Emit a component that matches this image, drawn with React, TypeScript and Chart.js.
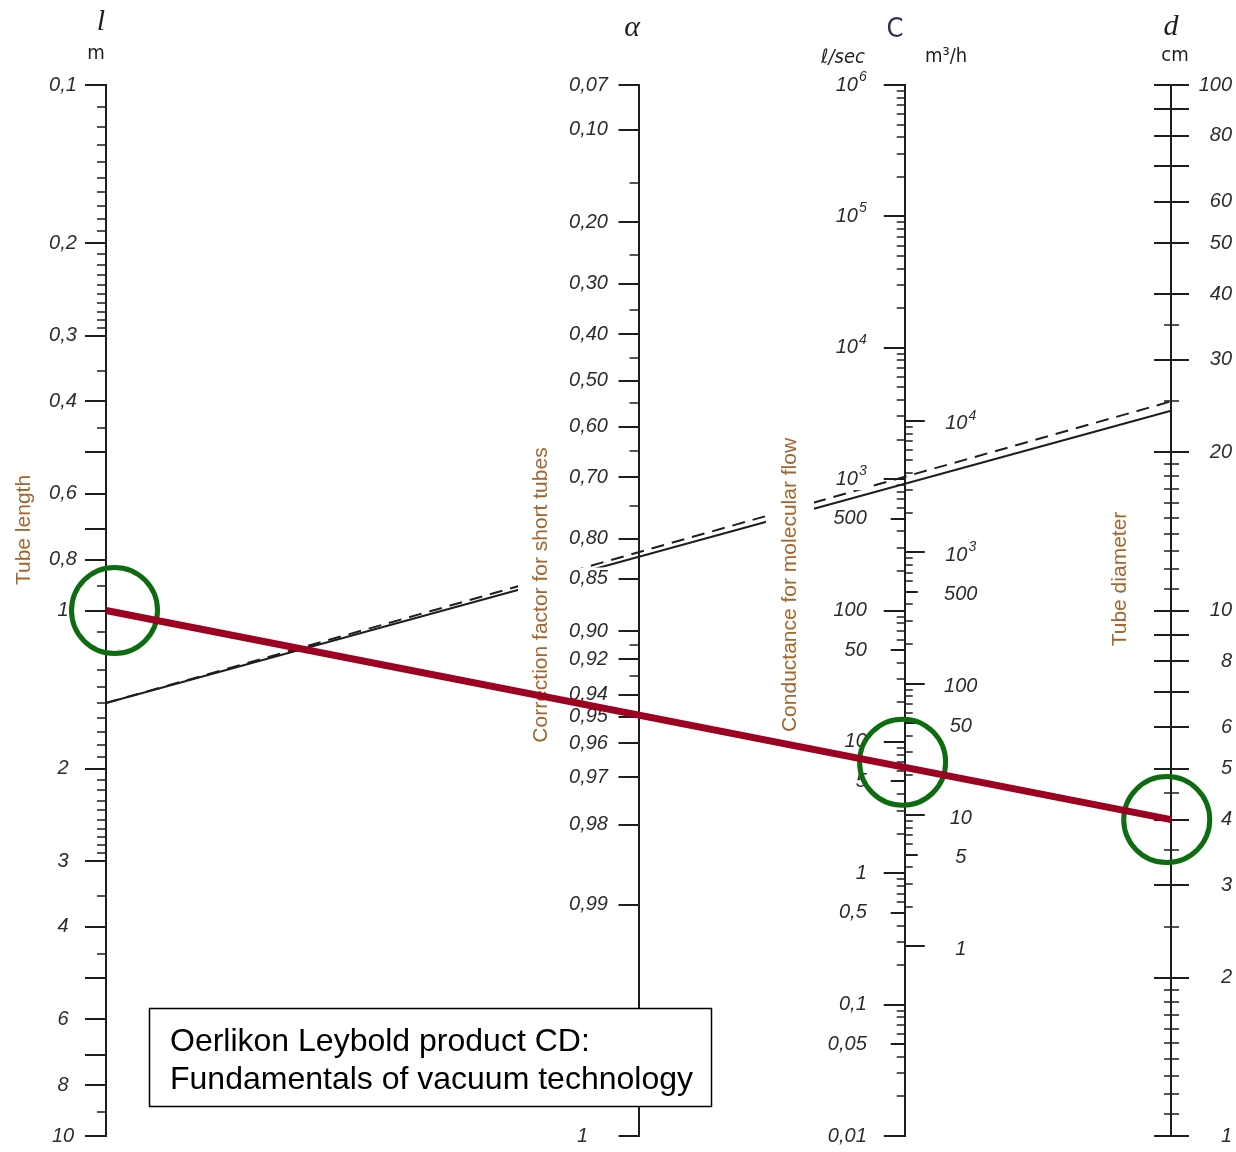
import React, { useEffect, useRef } from 'react';
import { Chart, registerables } from 'chart.js';

Chart.register(...registerables);

const W = 1236;
const H = 1152;

// Horizontal placement of the four nomogram axes (0 = tube length, 1 = tube diameter)
const AXIS_POS: Record<string, number> = { l: 0, a: 0.5, c: 0.75, d: 1 };

// ---- Tube length l (m) ----
const lLabelTicks = [0.1, 0.2, 0.3, 0.4, 0.6, 0.8, 1, 2, 3, 4, 6, 8, 10];
const lLabelTexts = ['0,1', '0,2', '0,3', '0,4', '0,6', '0,8', '1', '2', '3', '4', '6', '8', '10'];
const lMediumTicks = [0.5, 0.7, 5, 7];
const lMinorTicks = [
  0.11, 0.12, 0.13, 0.14, 0.15, 0.16, 0.17, 0.18, 0.19,
  0.21, 0.22, 0.23, 0.24, 0.25, 0.26, 0.27, 0.28, 0.29,
  0.35, 0.45, 0.9,
  1.1, 1.2, 1.3, 1.4, 1.5, 1.6, 1.7, 1.8, 1.9,
  2.1, 2.2, 2.3, 2.4, 2.5, 2.6, 2.7, 2.8, 2.9,
  3.5, 4.5, 9,
];

// ---- Correction factor alpha for short tubes ----
const aLabelTicks = [0.07, 0.1, 0.2, 0.3, 0.4, 0.5, 0.6, 0.7, 0.8, 0.85, 0.9, 0.92, 0.94, 0.95, 0.96, 0.97, 0.98, 0.99, 1];
const aLabelTexts = ['0,07', '0,10', '0,20', '0,30', '0,40', '0,50', '0,60', '0,70', '0,80', '0,85', '0,90', '0,92', '0,94', '0,95', '0,96', '0,97', '0,98', '0,99', '1'];
const aMinorTicks = [0.15, 0.25, 0.35, 0.45, 0.55, 0.65, 0.75, 0.91, 0.93];
// alpha = 1 / (1 + 4d/(3l)): the axis is logarithmic in l/d
const alphaToRatio = (a: number) => Math.min((4 * a) / (3 * (1 - a)), 1000);

// ---- Conductance C, l/s (left side) ----
const cLabelTicks = [1e6, 1e5, 1e4, 1e3, 500, 100, 50, 10, 5, 1, 0.5, 0.1, 0.05, 0.01];
const cLabelTexts = ['10^6', '10^5', '10^4', '10^3', '500', '100', '50', '10', '5', '1', '0,5', '0,1', '0,05', '0,01'];
const cMinorTicks = [
  0.02, 0.03, 0.04, 0.06, 0.07, 0.08, 0.09,
  0.2, 0.3, 0.4, 0.6, 0.7, 0.8, 0.9,
  2, 3, 4, 6, 7, 8, 9,
  20, 30, 40, 60, 70, 80, 90,
  200, 300, 400, 600, 700, 800, 900,
  2000, 3000, 4000, 5000, 6000, 7000, 8000, 9000,
  20000, 30000, 40000, 50000, 60000, 70000, 80000, 90000,
  200000, 300000, 400000, 500000, 600000, 700000, 800000, 900000,
];

// ---- Conductance C, m3/h (right side) ----
const chLabelTicks = [1e4, 1e3, 500, 100, 50, 10, 5, 1];
const chLabelTexts = ['10^4', '10^3', '500', '100', '50', '10', '5', '1'];
const chMinorTicks = [
  2, 3, 4, 6, 7, 8, 9,
  20, 30, 40, 60, 70, 80, 90,
  200, 300, 400, 600, 700, 800, 900,
  2000, 3000, 4000, 5000, 6000, 7000, 8000, 9000,
];

// ---- Tube diameter d (cm) ----
const dLabelTicks = [100, 80, 60, 50, 40, 30, 20, 10, 8, 6, 5, 4, 3, 2, 1];
const dLabelTexts = ['100', '80', '60', '50', '40', '30', '20', '10', '8', '6', '5', '4', '3', '2', '1'];
const dMediumTicks = [90, 70, 9, 7];
const dMinorTicks = [35, 25, 19, 18, 17, 16, 15, 14, 13, 12, 11, 4.5, 3.5, 2.5, 1.9, 1.8, 1.7, 1.6, 1.5, 1.4, 1.3, 1.2, 1.1];

// ---- Example lines (black) from l to d ----
const exampleLineL = [1.5, 1.5];
const exampleLineD = [24, 25];
const exampleLineDash = [[], [13, 8]];

// ---- Reading example (red line, green circles) ----
const readL = 1;
const readD = 4;
const circleL = 1;
const circleC = 7;
const circleD = 4;
// circles are hand-placed slightly beside their axes (x in axis-position units)
const circleX = [0.008, 0.748, 0.996];

const INK = '#1e1e1e';
const LABEL_INK = '#2c2c2c';
const TITLE_INK = '#a2662e';
const RED = '#9d0021';
const GREEN = '#0d6b10';

const tickFont = (size: number) => `italic ${size}px "Liberation Sans", Arial, sans-serif`;

function drawLabel(ctx: CanvasRenderingContext2D, text: string, x: number, y: number, align: string, bg: boolean) {
  const [base, exp] = text.split('^');
  ctx.font = tickFont(20);
  const wb = ctx.measureText(base).width;
  let we = 0;
  if (exp) {
    ctx.font = tickFont(14);
    we = ctx.measureText(exp).width + 1;
  }
  const w = wb + we;
  const x0 = align === 'left' ? x : align === 'right' ? x - w : x - w / 2;
  if (bg) {
    ctx.fillStyle = '#ffffff';
    ctx.fillRect(x0 - 6, y - 11, w + 12, 22);
  }
  ctx.fillStyle = LABEL_INK;
  ctx.textAlign = 'left';
  ctx.textBaseline = 'middle';
  ctx.font = tickFont(20);
  ctx.fillText(base, x0, y);
  if (exp) {
    ctx.font = tickFont(14);
    ctx.fillText(exp, x0 + wb + 1, y - 8);
  }
}

function axisX(chart: any, key: string) {
  return chart.scales.x.getPixelForValue(AXIS_POS[key]);
}

function drawTicks(ctx: CanvasRenderingContext2D, chart: any, scaleId: string, key: string, values: number[], left: number, right: number, lw: number, tf?: (v: number) => number) {
  const x = axisX(chart, key);
  const s = chart.scales[scaleId];
  ctx.lineWidth = lw;
  ctx.strokeStyle = INK;
  ctx.beginPath();
  values.forEach((v) => {
    const y = Math.round(s.getPixelForValue(tf ? tf(v) : v));
    ctx.moveTo(x - left, y);
    ctx.lineTo(x + right, y);
  });
  ctx.stroke();
}

function drawRotated(ctx: CanvasRenderingContext2D, text: string, cx: number, cy: number, pad: number) {
  ctx.save();
  ctx.translate(cx, cy);
  ctx.rotate(-Math.PI / 2);
  ctx.font = '21px "Liberation Sans", Arial, sans-serif';
  const w = ctx.measureText(text).width;
  ctx.fillStyle = '#ffffff';
  ctx.fillRect(-w / 2 - 4, -12 - pad, w + 8, 24 + 2 * pad);
  ctx.fillStyle = TITLE_INK;
  ctx.textAlign = 'center';
  ctx.textBaseline = 'middle';
  ctx.fillText(text, 0, 0);
  ctx.restore();
}

function drawText(ctx: CanvasRenderingContext2D, text: string, x: number, y: number, font: string, color: string) {
  ctx.font = font;
  ctx.fillStyle = color;
  ctx.textAlign = 'center';
  ctx.textBaseline = 'middle';
  ctx.fillText(text, x, y);
}

const isDecade = (v: number) => Math.abs(Math.log10(v) - Math.round(Math.log10(v))) < 1e-9;

const nomogramPlugin = {
  id: 'nomogram',
  beforeDraw(chart: any) {
    const ctx = chart.ctx;
    ctx.save();
    ctx.fillStyle = '#ffffff';
    ctx.fillRect(0, 0, chart.width, chart.height);
    ctx.restore();
  },
  beforeDatasetsDraw(chart: any) {
    const ctx: CanvasRenderingContext2D = chart.ctx;
    const area = chart.chartArea;
    ctx.save();
    ctx.lineCap = 'butt';

    // axis lines
    ctx.strokeStyle = INK;
    ctx.lineWidth = 2;
    ['l', 'a', 'c', 'd'].forEach((k) => {
      const x = Math.round(axisX(chart, k));
      ctx.beginPath();
      ctx.moveTo(x, area.top - 1);
      ctx.lineTo(x, area.bottom + 1);
      ctx.stroke();
    });

    // l axis ticks
    drawTicks(ctx, chart, 'l', 'l', lLabelTicks, 21, 0, 2);
    drawTicks(ctx, chart, 'l', 'l', lMediumTicks, 21, 0, 2);
    drawTicks(ctx, chart, 'l', 'l', lMinorTicks, 9, 0, 1.6);
    // alpha axis ticks
    drawTicks(ctx, chart, 'a', 'a', aLabelTicks, 20, 0, 2, alphaToRatio);
    drawTicks(ctx, chart, 'a', 'a', aMinorTicks, 9, 0, 1.6, alphaToRatio);
    // C axis ticks, l/s on the left
    drawTicks(ctx, chart, 'c', 'c', cLabelTicks.filter(isDecade), 21, 0, 2);
    drawTicks(ctx, chart, 'c', 'c', cLabelTicks.filter((v) => !isDecade(v)), 14, 0, 2);
    drawTicks(ctx, chart, 'c', 'c', cMinorTicks, 8, 0, 1.6);
    // C axis ticks, m3/h on the right
    drawTicks(ctx, chart, 'cm', 'c', chLabelTicks.filter(isDecade), 0, 20, 2);
    drawTicks(ctx, chart, 'cm', 'c', chLabelTicks.filter((v) => !isDecade(v)), 0, 13, 2);
    drawTicks(ctx, chart, 'cm', 'c', chMinorTicks, 0, 8, 1.6);
    // d axis ticks (both sides)
    drawTicks(ctx, chart, 'd', 'd', dLabelTicks, 17, 18, 2);
    drawTicks(ctx, chart, 'd', 'd', dMediumTicks, 17, 18, 2);
    drawTicks(ctx, chart, 'd', 'd', dMinorTicks, 7, 8, 1.6);

    // black example lines
    exampleLineL.forEach((lv, i) => {
      ctx.beginPath();
      ctx.setLineDash(exampleLineDash[i]);
      ctx.lineWidth = 2;
      ctx.strokeStyle = INK;
      ctx.moveTo(axisX(chart, 'l'), chart.scales.l.getPixelForValue(lv));
      ctx.lineTo(axisX(chart, 'd'), chart.scales.d.getPixelForValue(exampleLineD[i]));
      ctx.stroke();
    });
    ctx.setLineDash([]);

    // rotated axis titles
    drawRotated(ctx, 'Tube length', 24, 530, 4);
    drawRotated(ctx, 'Correction factor for short tubes', 541, 595, 11);
    drawRotated(ctx, 'Conductance for molecular flow', 790, 585, 12);
    drawRotated(ctx, 'Tube diameter', 1120, 579, 4);

    // tick labels
    const xl = axisX(chart, 'l');
    lLabelTicks.forEach((v, i) => drawLabel(ctx, lLabelTexts[i], xl - 43, chart.scales.l.getPixelForValue(v), 'center', true));
    const xa = axisX(chart, 'a');
    aLabelTicks.forEach((v, i) =>
      drawLabel(ctx, aLabelTexts[i], aLabelTexts[i] === '1' ? xa - 56 : xa - 50, chart.scales.a.getPixelForValue(alphaToRatio(v)), 'center', true)
    );
    const xc = axisX(chart, 'c');
    cLabelTicks.forEach((v, i) => drawLabel(ctx, cLabelTexts[i], xc - 38, chart.scales.c.getPixelForValue(v), 'right', true));
    chLabelTicks.forEach((v, i) => drawLabel(ctx, chLabelTexts[i], xc + 56, chart.scales.cm.getPixelForValue(v) + 3, 'center', true));
    const xd = axisX(chart, 'd');
    dLabelTicks.forEach((v, i) => drawLabel(ctx, dLabelTexts[i], xd + 61, chart.scales.d.getPixelForValue(v), 'right', true));

    // headers
    const serifItalic = 'italic 30px "Liberation Serif", serif';
    const cond = '20px "DejaVu Sans Condensed", "DejaVu Sans", sans-serif';
    drawText(ctx, 'l', 101, 22, serifItalic, INK);
    drawText(ctx, 'm', 96, 54, cond, INK);
    drawText(ctx, 'α', 632, 28, serifItalic, INK);
    drawText(ctx, 'C', 895, 30, '27px "DejaVu Sans Condensed", "DejaVu Sans", sans-serif', '#2a3148');
    drawText(ctx, 'ℓ/sec', 843, 58, 'italic 20px "DejaVu Sans Condensed", "DejaVu Sans", sans-serif', INK);
    drawText(ctx, 'm³/h', 946, 57, cond, INK);
    drawText(ctx, 'd', 1171, 27, serifItalic, INK);
    drawText(ctx, 'cm', 1175, 56, cond, INK);

    // source note box
    ctx.fillStyle = '#ffffff';
    ctx.fillRect(149, 1008, 563, 99);
    ctx.strokeStyle = '#000000';
    ctx.lineWidth = 1.5;
    ctx.strokeRect(149.5, 1008.5, 562, 98);
    ctx.fillStyle = '#000000';
    ctx.font = '32px "Liberation Sans", Arial, sans-serif';
    ctx.textAlign = 'left';
    ctx.textBaseline = 'alphabetic';
    ctx.fillText('Oerlikon Leybold product CD:', 170, 1051);
    ctx.fillText('Fundamentals of vacuum technology', 170, 1089);

    ctx.restore();
  },
  afterDatasetsDraw(chart: any) {
    const ctx: CanvasRenderingContext2D = chart.ctx;
    ctx.save();
    ctx.strokeStyle = RED;
    ctx.lineWidth = 7;
    ctx.lineCap = 'butt';
    ctx.beginPath();
    ctx.moveTo(axisX(chart, 'l'), chart.scales.l.getPixelForValue(readL));
    ctx.lineTo(axisX(chart, 'd'), chart.scales.d.getPixelForValue(readD));
    ctx.stroke();
    ctx.restore();
  },
};

const circleStyle = {
  pointRadius: 43,
  pointBorderWidth: 5,
  pointBorderColor: GREEN,
  pointBackgroundColor: 'rgba(0,0,0,0)',
  borderColor: GREEN,
  backgroundColor: 'rgba(0,0,0,0)',
  showLine: false,
  clip: false as any,
};

export default function App() {
  const ref = useRef<HTMLCanvasElement>(null);
  useEffect(() => {
    const chart = new Chart(ref.current as HTMLCanvasElement, {
      type: 'scatter',
      data: {
        datasets: [
          { label: 'l', data: [{ x: circleX[0], y: circleL }], yAxisID: 'l', ...circleStyle },
          { label: 'C', data: [{ x: circleX[1], y: circleC }], yAxisID: 'c', ...circleStyle },
          { label: 'd', data: [{ x: circleX[2], y: circleD }], yAxisID: 'd', ...circleStyle },
        ],
      },
      options: {
        responsive: false,
        animation: false,
        devicePixelRatio: 1,
        events: [],
        layout: { autoPadding: false, padding: { left: 106, right: 65, top: 85, bottom: 16 } },
        plugins: { legend: { display: false }, tooltip: { enabled: false }, title: { display: false } },
        scales: {
          x: { type: 'linear', min: 0, max: 1, display: false },
          y: { type: 'linear', display: false },
          l: { type: 'logarithmic', axis: 'y', min: 0.1, max: 10, reverse: true, display: false },
          a: { type: 'logarithmic', axis: 'y', min: 0.1, max: 1000, reverse: true, display: false },
          c: { type: 'logarithmic', axis: 'y', min: 0.01, max: 1e6, display: false },
          cm: { type: 'logarithmic', axis: 'y', min: 0.036, max: 3.6e6, display: false },
          d: { type: 'logarithmic', axis: 'y', min: 1, max: 100, display: false },
        } as any,
      } as any,
      plugins: [nomogramPlugin],
    });
    return () => chart.destroy();
  }, []);
  return (
    <div style={{ position: 'absolute', left: 0, top: 0, width: W, height: H, background: '#ffffff' }}>
      <canvas ref={ref} width={W} height={H} style={{ display: 'block', width: W, height: H }} />
    </div>
  );
}
